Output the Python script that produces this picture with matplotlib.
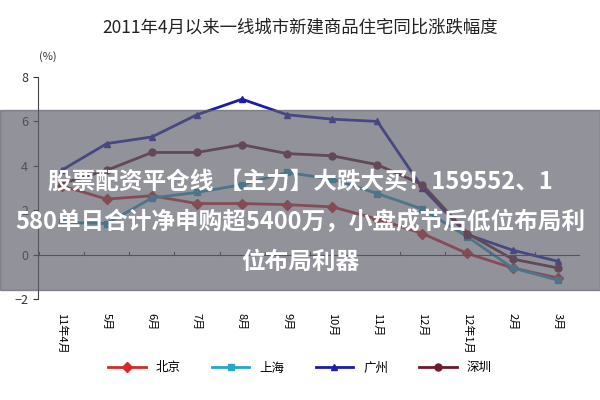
import numpy as np
import matplotlib.pyplot as plt
from matplotlib.lines import Line2D

plt.rcParams['font.family'] = ['Noto Sans CJK SC', 'DejaVu Sans']

months = ["11年4月", "5月", "6月", "7月", "8月", "9月", "10月", "11月", "12月", "12年1月", "2月", "3月"]
beijing = [3.1, 2.5, 2.65, 2.3, 2.3, 2.25, 2.15, 1.6, 0.95, 0.05, -0.6, -1.05]
shanghai = [1.45, 1.4, 2.55, 2.8, 3.15, 3.7, 3.4, 2.75, 2.05, 0.8, -0.6, -1.15]
guangzhou = [3.8, 5.0, 5.3, 6.3, 7.0, 6.3, 6.1, 6.0, 3.0, 0.9, 0.2, -0.3]
shenzhen = [3.2, 3.8, 4.6, 4.6, 4.95, 4.55, 4.45, 4.05, 3.15, 0.95, -0.2, -0.6]

series = [
    ("北京", beijing, "#d42a2a", "D"),
    ("上海", shanghai, "#2aa6c6", "s"),
    ("广州", guangzhou, "#1c1caa", "^"),
    ("深圳", shenzhen, "#6e1a2c", "o"),
]


def main():
    fig = plt.figure(figsize=(6, 4), dpi=100)
    ax = fig.add_axes([0.063, 0.2525, 0.904, 0.555])
    x = np.arange(len(months))
    for name, vals, color, mk in series:
        ax.plot(x, vals, color=color, marker=mk, markersize=5, linewidth=2, label=name)

    ax.set_ylim(-2, 8)
    ax.set_yticks([-2, 0, 2, 4, 6, 8])
    ax.set_xlim(-0.53, 11.5)
    ax.set_xticks(x)
    ax.set_xticklabels(months, rotation=270, fontsize=8, va='top')
    ax.tick_params(axis='y', labelsize=9, colors='#333333')
    ax.tick_params(axis='x', length=0, pad=10)
    for s in ['top', 'right', 'bottom']:
        ax.spines[s].set_visible(False)
    ax.spines['left'].set_color('#444444')
    ax.axhline(0, color='#444444', linewidth=0.8)
    for xv in np.arange(-0.5, 11.6, 1):
        ax.plot([xv, xv], [0, 0.12], color='#444444', linewidth=0.8)
    fig.text(0.065, 0.85, "(%)", fontsize=8, color='#333333')

    fig.text(0.5, 0.93, "2011年4月以来一线城市新建商品住宅同比涨跌幅度", ha='center', va='center', fontsize=12.5, color='#222222')

    handles = [Line2D([0], [0], color=c, marker=m, markersize=5, linewidth=2) for _, _, c, m in series]
    fig.legend(handles, [s[0] for s in series], loc='center', bbox_to_anchor=(0.5, 0.08), ncol=4,
               frameon=False, fontsize=9, handlelength=3, columnspacing=2.5)

    # grey overlay banner
    fig.patches.append(plt.Rectangle((0, 0.275), 1, 0.45, transform=fig.transFigure,
                                     color='#5e5e6c', alpha=0.68, zorder=10))
    fig.text(0.5, 0.545, "股票配资平仓线 【主力】大跌大买！159552、1", ha='center', va='center',
             fontsize=17, fontweight='bold', color='white', zorder=11)
    fig.text(0.5, 0.445, "580单日合计净申购超5400万，小盘成节后低位布局利", ha='center', va='center',
             fontsize=17, fontweight='bold', color='white', zorder=11)
    fig.text(0.5, 0.345, "位布局利器", ha='center', va='center',
             fontsize=17, fontweight='bold', color='white', zorder=11)

    fig.savefig("out.png")


if __name__ == "__main__":
    main()
